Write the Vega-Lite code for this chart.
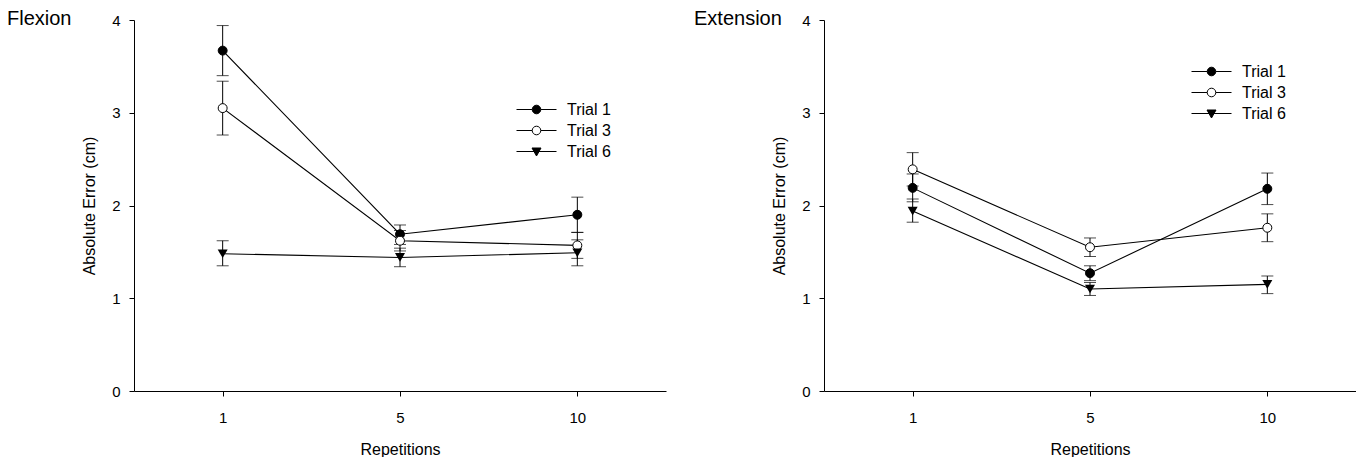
{
  "$schema": "https://vega.github.io/schema/vega-lite/v6.json",
  "padding": {"left": 7, "top": 9, "right": 0, "bottom": 0},
  "bounds": "flush",
  "spacing": 158,
  "config": {
    "font": "Liberation Sans",
    "view": {"stroke": null},
    "axis": {"domainColor": "black", "tickColor": "black", "labelColor": "black", "titleColor": "black", "labelFontSize": 15, "titleFontSize": 16, "titleFontWeight": "normal", "tickSize": 5, "grid": false},
    "axisX": {"labelPadding": 14, "titlePadding": 16},
    "axisY": {"labelPadding": 9, "titlePadding": 14, "format": "d"},
    "title": {"fontSize": 20, "fontWeight": "normal", "anchor": "start", "frame": "group", "color": "black", "baseline": "alphabetic", "offset": -16},
    "legend": {"labelColor": "black", "labelFontSize": 16, "symbolStrokeColor": "black", "symbolStrokeWidth": 1, "symbolOpacity": 1}
  },
  "datasets": {
    "flex": [
      {"rep": 1, "trial": "Trial 1", "mean": 3.67, "lo": 3.40, "hi": 3.94},
      {"rep": 5, "trial": "Trial 1", "mean": 1.69, "lo": 1.58, "hi": 1.79},
      {"rep": 10, "trial": "Trial 1", "mean": 1.90, "lo": 1.71, "hi": 2.09},
      {"rep": 1, "trial": "Trial 3", "mean": 3.05, "lo": 2.76, "hi": 3.34},
      {"rep": 5, "trial": "Trial 3", "mean": 1.62, "lo": 1.51, "hi": 1.73},
      {"rep": 10, "trial": "Trial 3", "mean": 1.57, "lo": 1.43, "hi": 1.71},
      {"rep": 1, "trial": "Trial 6", "mean": 1.48, "lo": 1.35, "hi": 1.62},
      {"rep": 5, "trial": "Trial 6", "mean": 1.44, "lo": 1.34, "hi": 1.54},
      {"rep": 10, "trial": "Trial 6", "mean": 1.49, "lo": 1.35, "hi": 1.63}
    ],
    "ext": [
      {"rep": 1, "trial": "Trial 1", "mean": 2.19, "lo": 2.04, "hi": 2.34},
      {"rep": 5, "trial": "Trial 1", "mean": 1.27, "lo": 1.19, "hi": 1.35},
      {"rep": 10, "trial": "Trial 1", "mean": 2.18, "lo": 2.01, "hi": 2.35},
      {"rep": 1, "trial": "Trial 3", "mean": 2.39, "lo": 2.21, "hi": 2.57},
      {"rep": 5, "trial": "Trial 3", "mean": 1.55, "lo": 1.45, "hi": 1.65},
      {"rep": 10, "trial": "Trial 3", "mean": 1.76, "lo": 1.61, "hi": 1.91},
      {"rep": 1, "trial": "Trial 6", "mean": 1.94, "lo": 1.82, "hi": 2.07},
      {"rep": 5, "trial": "Trial 6", "mean": 1.10, "lo": 1.03, "hi": 1.17},
      {"rep": 10, "trial": "Trial 6", "mean": 1.15, "lo": 1.05, "hi": 1.24}
    ]
  },
  "resolve": {"scale": {"x": "independent", "y": "independent", "shape": "independent", "fill": "independent"}, "legend": {"shape": "independent", "fill": "independent"}},
  "hconcat": [
    {
      "width": 532, "height": 371,
      "title": {"text": "Flexion", "dx": -127},
      "data": {"name": "flex"},
      "encoding": {
        "x": {"field": "rep", "type": "ordinal", "scale": {"type": "point", "padding": 0.5}, "axis": {"title": "Repetitions", "labelAngle": 0}}
      },
      "layer": [
        {"mark": {"type": "rule", "color": "black", "strokeWidth": 1},
         "encoding": {"y": {"field": "lo", "type": "quantitative", "scale": {"domain": [0, 4], "nice": false}, "axis": {"title": "Absolute Error (cm)", "values": [0, 1, 2, 3, 4]}}, "y2": {"field": "hi"}}},
        {"mark": {"type": "tick", "color": "black", "thickness": 1, "size": 12},
         "encoding": {"y": {"field": "lo", "type": "quantitative", "title": "Absolute Error (cm)"}}},
        {"mark": {"type": "tick", "color": "black", "thickness": 1, "size": 12},
         "encoding": {"y": {"field": "hi", "type": "quantitative", "title": "Absolute Error (cm)"}}},
        {"mark": {"type": "line", "color": "black", "strokeWidth": 1.1},
         "encoding": {"y": {"field": "mean", "type": "quantitative", "title": "Absolute Error (cm)"}, "detail": {"field": "trial", "type": "nominal"}}},
        {"transform": [{"filter": {"field": "trial", "oneOf": ["Trial 1", "Trial 3"]}}],
         "mark": {"type": "point", "shape": "circle", "filled": true, "opacity": 1, "stroke": "black", "strokeWidth": 1, "size": 80},
         "encoding": {
           "y": {"field": "mean", "type": "quantitative", "title": "Absolute Error (cm)"},
           "fill": {"field": "trial", "type": "nominal", "scale": {"domain": ["Trial 1", "Trial 3"], "range": ["black", "white"]}, "legend": null}
         }},
        {"transform": [{"filter": {"field": "trial", "equal": "Trial 6"}}],
         "mark": {"type": "point", "shape": "triangle-down", "filled": true, "opacity": 1, "color": "black", "size": 100},
         "encoding": {"y": {"field": "mean", "type": "quantitative", "title": "Absolute Error (cm)"}}},
        {"mark": {"type": "point", "filled": true, "opacity": 0, "color": "black", "stroke": "black", "strokeWidth": 1, "size": 1},
         "encoding": {
           "y": {"field": "mean", "type": "quantitative", "title": "Absolute Error (cm)"},
           "shape": {"field": "trial", "type": "nominal", "scale": {"domain": ["Trial 1", "Trial 3", "Trial 6"], "range": ["M-2,0H-0.43M0.43,0H2M-0.43,0A0.43,0.43,0,1,1,0.43,0A0.43,0.43,0,1,1,-0.43,0Z", "M-2,0H-0.43M0.43,0H2M-0.43,0A0.43,0.43,0,1,1,0.43,0A0.43,0.43,0,1,1,-0.43,0Z", "M-2,0H2M-0.45,-0.35H0.45L0,0.45Z"]},
             "legend": {"orient": "none", "legendX": 392, "legendY": 79, "title": null, "symbolSize": 400, "labelOffset": 20, "rowPadding": 2, "padding": 0,
               "encoding": {"symbols": {
                 "fill": {"value": {"expr": "datum.value === 'Trial 3' ? 'white' : 'black'"}},
                 "stroke": {"value": "black"}, "strokeWidth": {"value": 1}, "opacity": {"value": 1}}}}}
         }}
      ]
    },
    {
      "width": 532, "height": 371,
      "title": {"text": "Extension", "dx": -130},
      "data": {"name": "ext"},
      "encoding": {
        "x": {"field": "rep", "type": "ordinal", "scale": {"type": "point", "padding": 0.5}, "axis": {"title": "Repetitions", "labelAngle": 0}}
      },
      "layer": [
        {"mark": {"type": "rule", "color": "black", "strokeWidth": 1},
         "encoding": {"y": {"field": "lo", "type": "quantitative", "scale": {"domain": [0, 4], "nice": false}, "axis": {"title": "Absolute Error (cm)", "values": [0, 1, 2, 3, 4]}}, "y2": {"field": "hi"}}},
        {"mark": {"type": "tick", "color": "black", "thickness": 1, "size": 12},
         "encoding": {"y": {"field": "lo", "type": "quantitative", "title": "Absolute Error (cm)"}}},
        {"mark": {"type": "tick", "color": "black", "thickness": 1, "size": 12},
         "encoding": {"y": {"field": "hi", "type": "quantitative", "title": "Absolute Error (cm)"}}},
        {"mark": {"type": "line", "color": "black", "strokeWidth": 1.1},
         "encoding": {"y": {"field": "mean", "type": "quantitative", "title": "Absolute Error (cm)"}, "detail": {"field": "trial", "type": "nominal"}}},
        {"transform": [{"filter": {"field": "trial", "oneOf": ["Trial 1", "Trial 3"]}}],
         "mark": {"type": "point", "shape": "circle", "filled": true, "opacity": 1, "stroke": "black", "strokeWidth": 1, "size": 80},
         "encoding": {
           "y": {"field": "mean", "type": "quantitative", "title": "Absolute Error (cm)"},
           "fill": {"field": "trial", "type": "nominal", "scale": {"domain": ["Trial 1", "Trial 3"], "range": ["black", "white"]}, "legend": null}
         }},
        {"transform": [{"filter": {"field": "trial", "equal": "Trial 6"}}],
         "mark": {"type": "point", "shape": "triangle-down", "filled": true, "opacity": 1, "color": "black", "size": 100},
         "encoding": {"y": {"field": "mean", "type": "quantitative", "title": "Absolute Error (cm)"}}},
        {"mark": {"type": "point", "filled": true, "opacity": 0, "color": "black", "stroke": "black", "strokeWidth": 1, "size": 1},
         "encoding": {
           "y": {"field": "mean", "type": "quantitative", "title": "Absolute Error (cm)"},
           "shape": {"field": "trial", "type": "nominal", "scale": {"domain": ["Trial 1", "Trial 3", "Trial 6"], "range": ["M-2,0H-0.43M0.43,0H2M-0.43,0A0.43,0.43,0,1,1,0.43,0A0.43,0.43,0,1,1,-0.43,0Z", "M-2,0H-0.43M0.43,0H2M-0.43,0A0.43,0.43,0,1,1,0.43,0A0.43,0.43,0,1,1,-0.43,0Z", "M-2,0H2M-0.45,-0.35H0.45L0,0.45Z"]},
             "legend": {"orient": "none", "legendX": 377, "legendY": 41, "title": null, "symbolSize": 400, "labelOffset": 20, "rowPadding": 2, "padding": 0,
               "encoding": {"symbols": {
                 "fill": {"value": {"expr": "datum.value === 'Trial 3' ? 'white' : 'black'"}},
                 "stroke": {"value": "black"}, "strokeWidth": {"value": 1}, "opacity": {"value": 1}}}}}
         }}
      ]
    }
  ]
}
